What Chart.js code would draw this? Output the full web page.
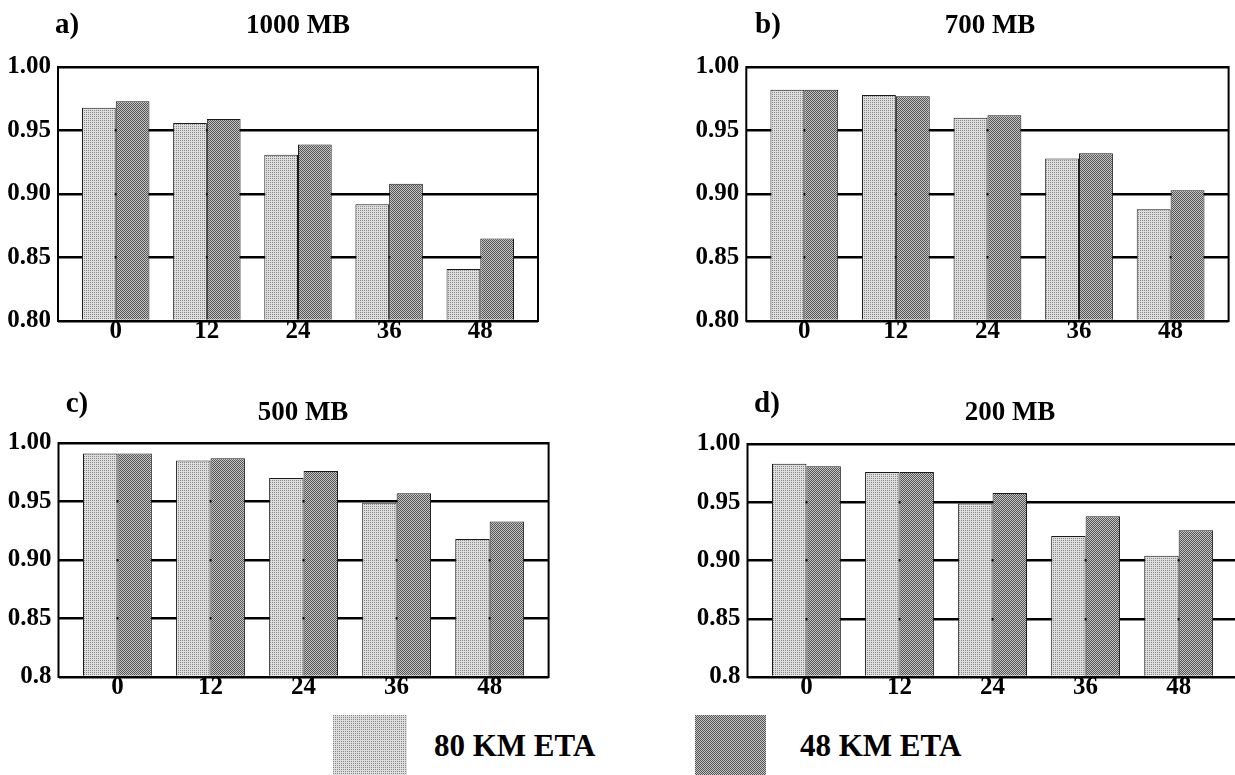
<!DOCTYPE html>
<html>
<head>
<meta charset="utf-8">
<script src="https://cdn.jsdelivr.net/npm/chart.js@4.4.1/dist/chart.umd.min.js"></script>
<style>
  body { margin: 0; width: 1235px; height: 775px; background: #fff; position: relative; overflow: hidden; }
  .panel { position: absolute; }
  .txt { position: absolute; font-family: "Liberation Serif", "Times New Roman", serif; font-weight: bold; color: #000; line-height: 1; white-space: nowrap; transform: translate(-50%, -50%); }
  .swatch { position: absolute; }
  .leg { position: absolute; font: bold 31px "Liberation Serif", serif; line-height: 1; transform: translateY(-50%); white-space: nowrap; }
</style>
</head>
<body>
<div class="panel" id="pa" style="left:0;top:0;width:545px;height:345px"><canvas id="c1000"></canvas></div>
<div class="panel" id="pb" style="left:688px;top:0;width:547px;height:345px"><canvas id="c700"></canvas></div>
<div class="panel" id="pc" style="left:0;top:380px;width:556px;height:321px"><canvas id="c500"></canvas></div>
<div class="panel" id="pd" style="left:689px;top:380px;width:556px;height:321px"><canvas id="c200"></canvas></div>
<script>
// Data
const hours = [0, 12, 24, 36, 48];
const yTicks = [0.80, 0.85, 0.90, 0.95, 1.00];
const yLabelsAB = ['0.80', '0.85', '0.90', '0.95', '1.00'];
const yLabelsCD = ['0.8', '0.85', '0.90', '0.95', '1.00'];
const seriesNames = ['80 KM ETA', '48 KM ETA'];
const panelLetters = ['a)', 'b)', 'c)', 'd)'];
const levels = ['1000 MB', '700 MB', '500 MB', '200 MB'];

const eta80_1000 = [0.968, 0.956, 0.931, 0.892, 0.841];
const eta48_1000 = [0.973, 0.959, 0.939, 0.908, 0.865];
const eta80_700 = [0.982, 0.978, 0.960, 0.928, 0.888];
const eta48_700 = [0.982, 0.977, 0.962, 0.932, 0.903];
const eta80_500 = [0.991, 0.985, 0.970, 0.949, 0.918];
const eta48_500 = [0.991, 0.987, 0.976, 0.957, 0.933];
const eta80_200 = [0.983, 0.976, 0.949, 0.921, 0.904];
const eta48_200 = [0.981, 0.976, 0.958, 0.938, 0.926];

// Stipple tiles for the two fills
function makeTile(dark) {
    const c = document.createElement('canvas');
    c.width = 4; c.height = 4;
    const g = c.getContext('2d');
    for (let y = 0; y < 4; y++) {
        for (let x = 0; x < 4; x++) {
            let col;
            if (dark) col = (x + y) % 2 == 0 ? '#555555' : '#c4c4c4';
            else col = ((x + y) % 2 == 0 && y % 2 == 0) ? '#888888' : '#dedede';
            g.fillStyle = col;
            g.fillRect(x, y, 1, 1);
        }
    }
    return c;
}
const lightTile = makeTile(false);
const darkTile = makeTile(true);

const frame = {
    id: 'frame',
    afterDatasetsDraw(chart) {
        const a = chart.chartArea;
        const ctx = chart.ctx;
        ctx.save();
        ctx.strokeStyle = '#000';
        ctx.lineWidth = 2;
        ctx.strokeRect(a.left, a.top, a.right - a.left, a.bottom - a.top);
        ctx.restore();
    }
};

const font = 'Liberation Serif';

function makePanel(id, light, dark, yLabels, pad, yWidth) {
    new Chart(document.getElementById(id), {
        type: 'bar',
        data: {
            datasets: [{
                label: seriesNames[0],
                data: hours.map((h, i) => ({x: h, y: light[i]})),
                backgroundColor: (c) => c.chart.ctx.createPattern(lightTile, 'repeat'),
                borderColor: '#1a1a1a',
                borderWidth: 1,
                base: 0.8
            }, {
                label: seriesNames[1],
                data: hours.map((h, i) => ({x: h, y: dark[i]})),
                backgroundColor: (c) => c.chart.ctx.createPattern(darkTile, 'repeat'),
                borderColor: '#1a1a1a',
                borderWidth: 1,
                base: 0.8
            }]
        },
        options: {
            responsive: true,
            maintainAspectRatio: false,
            animation: false,
            layout: { padding: pad },
            categoryPercentage: 0.74,
            barPercentage: 1.0,
            plugins: { legend: { display: false }, tooltip: { enabled: false } },
            scales: {
                x: {
                    type: 'linear',
                    offset: false,
                    min: -7.6,
                    max: 55.6,
                    afterBuildTicks: (s) => { s.ticks = hours.map(v => ({value: v})); },
                    afterFit: (s) => { s.height = 24; },
                    grid: { display: false, drawTicks: false },
                    border: { display: false },
                    ticks: {
                        padding: -4,
                        color: '#000',
                        font: { family: font, size: 25, weight: 'bold' },
                        callback: (v) => String(v)
                    }
                },
                y: {
                    min: 0.8,
                    max: 1.0,
                    afterBuildTicks: (s) => { s.ticks = yTicks.map(v => ({value: v})); },
                    afterFit: (s) => { s.width = yWidth; },
                    grid: { color: '#000', lineWidth: 2.5, drawTicks: false },
                    border: { display: false },
                    ticks: {
                        padding: 7,
                        color: '#000',
                        font: { family: font, size: 25, weight: 'bold' },
                        callback: (v, i) => yLabels[i]
                    }
                }
            }
        },
        plugins: [frame]
    });
}

makePanel('c1000', eta80_1000, eta48_1000, yLabelsAB, {top: 67, right: 7}, 58);
makePanel('c700', eta80_700, eta48_700, yLabelsAB, {top: 67, right: 6.4}, 58.3);
makePanel('c500', eta80_500, eta48_500, yLabelsCD, {top: 63, right: 7.4}, 58.5);
makePanel('c200', eta80_200, eta48_200, yLabelsCD, {top: 64, right: 7.4}, 58.5);

// Panel letters and titles
const letterPos = [[67, 23], [768, 23], [77, 402], [767, 402]];
const titlePos = [[298, 24], [990, 24], [303, 411], [1010, 411]];
for (let i = 0; i < 4; i++) {
    const l = document.createElement('div');
    l.className = 'txt';
    l.style.fontSize = '29px';
    l.style.left = letterPos[i][0] + 'px';
    l.style.top = letterPos[i][1] + 'px';
    l.textContent = panelLetters[i];
    document.body.appendChild(l);
    const t = document.createElement('div');
    t.className = 'txt';
    t.style.fontSize = '27px';
    t.style.left = titlePos[i][0] + 'px';
    t.style.top = titlePos[i][1] + 'px';
    t.textContent = levels[i];
    document.body.appendChild(t);
}

// Legend
const legendBoxes = [[333, 74, lightTile, 434], [695, 71, darkTile, 800]];
legendBoxes.forEach((b, i) => {
    const s = document.createElement('div');
    s.className = 'swatch';
    s.style.cssText = 'left:' + b[0] + 'px;top:715px;width:' + b[1] + 'px;height:62px;background-image:url(' + b[2].toDataURL() + ')';
    document.body.appendChild(s);
    const t = document.createElement('div');
    t.className = 'leg';
    t.style.left = b[3] + 'px';
    t.style.top = '745px';
    t.textContent = seriesNames[i];
    document.body.appendChild(t);
});
</script>
</body>
</html>
